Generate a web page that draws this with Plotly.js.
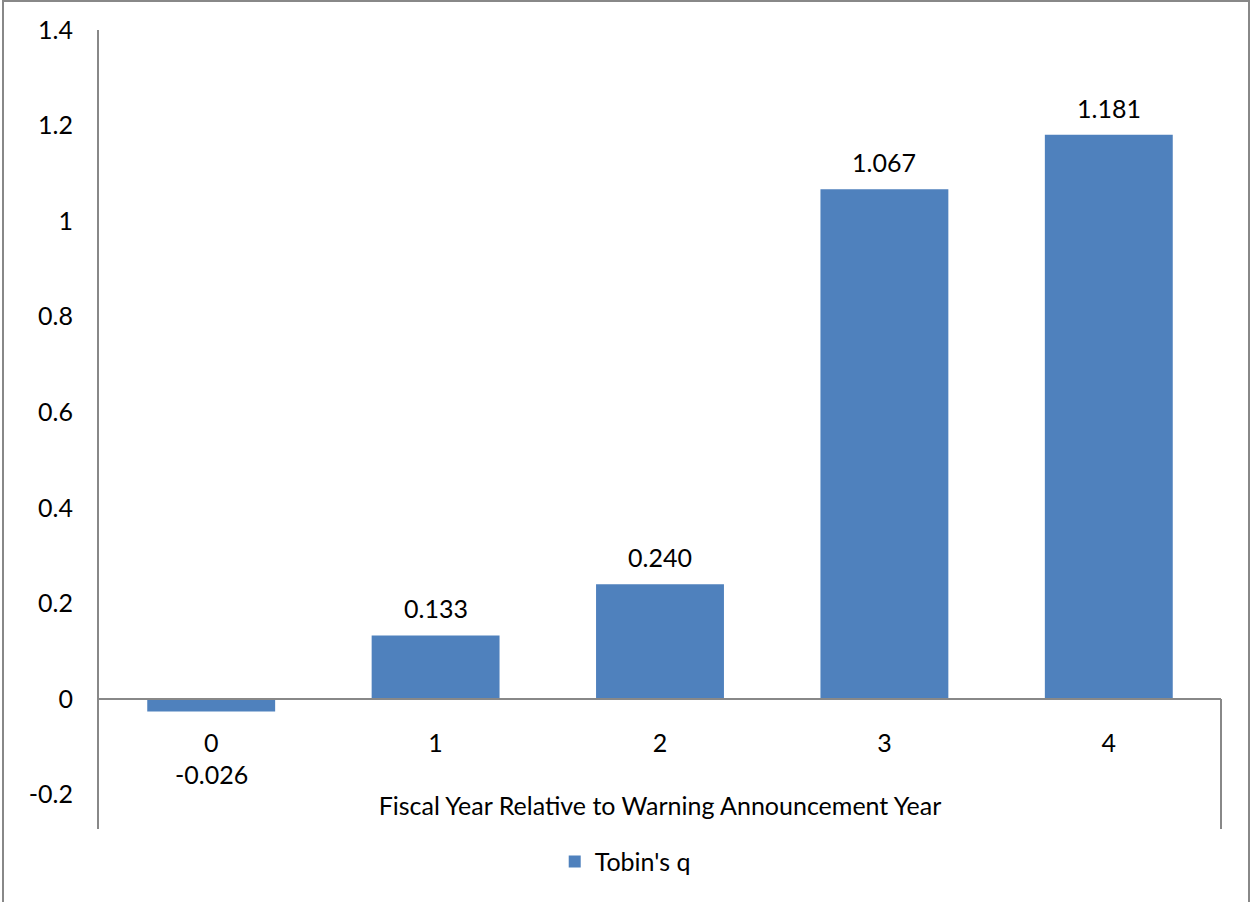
<!DOCTYPE html>
<html>
<head>
<meta charset="utf-8">
<script src="https://cdn.plot.ly/plotly-3.0.1.min.js"></script>
<style>
  html, body { margin: 0; padding: 0; background: #ffffff; }
  #chart { width: 1251px; height: 902px; }
</style>
</head>
<body>
<div id="chart"></div>
<script>
// Fiscal years relative to the warning announcement year
const years = ['0', '1', '2', '3', '4'];
// Change in Tobin's q for each year
const tobinsQ = [-0.026, 0.133, 0.240, 1.067, 1.181];
// Vertical axis ticks
const yTickValues = [-0.2, 0, 0.2, 0.4, 0.6, 0.8, 1, 1.2, 1.4];
const yTickLabels = ['-0.2', '0', '0.2', '0.4', '0.6', '0.8', '1', '1.2', '1.4'];

const seriesName = "Tobin's q";
const xTitle = 'Fiscal Year Relative to Warning Announcement Year';

const FONT = 'Lato, Carlito, Calibri, sans-serif';
const AXIS_GREY = '#888888';
const BAR_BLUE = '#4F81BD';

// Plot box: 1122 x 799 px; the value axis runs a little past -0.2 at the bottom
const yMin = -0.272;
const yMax = 1.4;
const zeroPos = (0 - yMin) / (yMax - yMin);

const trace = {
  type: 'bar',
  x: years,
  y: tobinsQ,
  name: seriesName,
  marker: { color: BAR_BLUE },
  hoverinfo: 'none',
  showlegend: true
};

// Data labels above positive bars, below the category label for negatives
const valueLabels = years.map((yr, i) => ({
  x: yr,
  y: tobinsQ[i],
  xref: 'x',
  yref: 'y',
  text: tobinsQ[i].toFixed(3),
  showarrow: false,
  yanchor: 'middle',
  yshift: tobinsQ[i] >= 0 ? 27 : -63,
  font: { family: FONT, size: 25, color: '#000000' }
}));

const layout = {
  width: 1251,
  height: 902,
  margin: { l: 99, r: 30, t: 30, b: 73, pad: 0 },
  paper_bgcolor: '#ffffff',
  plot_bgcolor: '#ffffff',
  font: { family: FONT, size: 25, color: '#000000' },
  bargap: 0.43,
  xaxis: {
    type: 'category',
    anchor: 'free',
    position: zeroPos,
    showline: true,
    linecolor: AXIS_GREY,
    linewidth: 2,
    showgrid: false,
    zeroline: false,
    ticks: '',
    ticklabelstandoff: 22,
    tickfont: { family: FONT, size: 25, color: '#000000' },
    title: {
      text: xTitle,
      standoff: 40,
      font: { family: FONT, size: 25, color: '#000000' }
    }
  },
  yaxis: {
    range: [yMin, yMax],
    tickvals: yTickValues,
    ticktext: yTickLabels,
    showline: true,
    linecolor: AXIS_GREY,
    linewidth: 2,
    showgrid: false,
    zeroline: false,
    ticks: '',
    ticklabelstandoff: 19,
    tickfont: { family: FONT, size: 25, color: '#000000' }
  },
  legend: {
    orientation: 'h',
    x: 0.469,
    xanchor: 'center',
    y: -0.041,
    yanchor: 'middle',
    font: { family: FONT, size: 25, color: '#000000' }
  },
  annotations: valueLabels,
  shapes: [
    // short drop line at the right end of the category axis
    {
      type: 'line', xref: 'paper', yref: 'y',
      x0: 1, x1: 1, y0: yMin, y1: 0,
      line: { color: AXIS_GREY, width: 2 }
    },
    // chart frame
    {
      type: 'rect', xref: 'paper', yref: 'paper',
      x0: -96 / 1122, x1: 1150 / 1122, y0: -0.2, y1: 828 / 799,
      line: { color: AXIS_GREY, width: 2 },
      fillcolor: 'rgba(0,0,0,0)'
    }
  ]
};

Plotly.newPlot('chart', [trace], layout, { displayModeBar: false, staticPlot: true });
</script>
</body>
</html>
